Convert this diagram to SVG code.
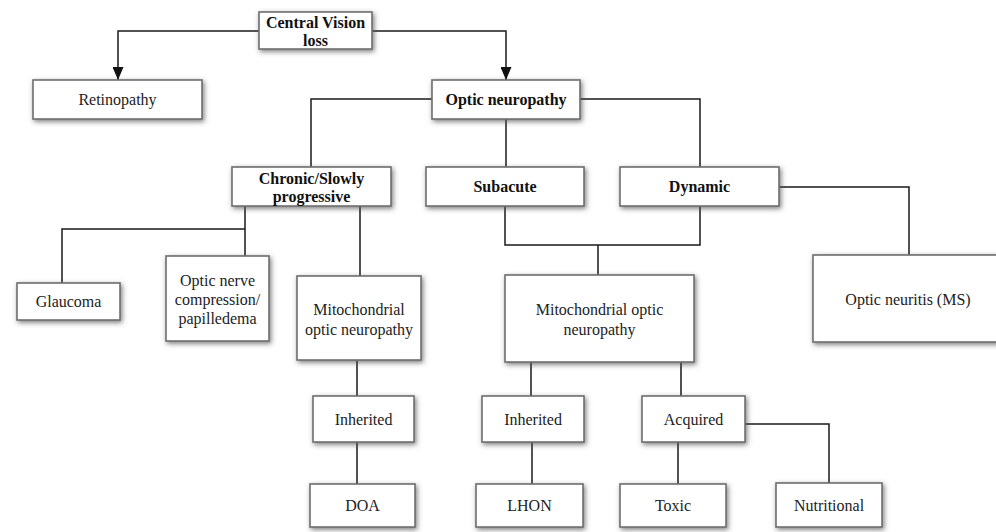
<svg xmlns="http://www.w3.org/2000/svg" width="996" height="532" viewBox="0 0 996 532">
<style>
.box{fill:#fff;stroke:#6e6e6e;stroke-width:1.6;filter:url(#sh)}
.t{font-family:'Liberation Serif','Times New Roman','DejaVu Serif',serif;font-size:16px;fill:#222;text-anchor:middle;dominant-baseline:central}
.b{font-weight:bold;fill:#111}
.c{fill:none;stroke:#1a1a1a;stroke-width:1.5}
</style>
<defs>
<filter id="sh" x="-20%" y="-30%" width="140%" height="160%">
<feDropShadow dx="1.5" dy="2" stdDeviation="2.5" flood-color="#555" flood-opacity="0.75"/>
</filter>
<marker id="ar" markerWidth="13" markerHeight="11" refX="13" refY="5.5" orient="auto" markerUnits="userSpaceOnUse" viewBox="0 0 13 11">
<path d="M0,0 L13,5.5 L0,11 Z" fill="#111"/>
</marker>
</defs>
<rect width="996" height="532" fill="#fff"/>
<g id="connectors">
<path class="c" d="M259,31 H118 V80" marker-end="url(#ar)"/>
<path class="c" d="M372,31 H506 V80" marker-end="url(#ar)"/>
<path class="c" d="M432,99 H311 V167"/>
<path class="c" d="M580,99 H700 V167"/>
<path class="c" d="M506,119 V167"/>
<path class="c" d="M245,206 V256 M245,229 H62 V283"/>
<path class="c" d="M360,206 V276"/>
<path class="c" d="M505,206 V245 H700 V206 M598,245 V275"/>
<path class="c" d="M779,187 H909 V255"/>
<path class="c" d="M357,360 V396 M357,442 V484"/>
<path class="c" d="M531,362 V396 M681,362 V396"/>
<path class="c" d="M532,442 V484"/>
<path class="c" d="M678,442 V484 M745,424 H829 V483"/>
</g>
<g id="central"><rect class="box" x="259" y="12" width="113" height="37"/><text class="t b" x="315.5" y="22">Central Vision</text><text class="t b" x="315.5" y="40">loss</text></g>
<g id="retinopathy"><rect class="box" x="33" y="80" width="169" height="39"/><text class="t" x="117.5" y="99.5">Retinopathy</text></g>
<g id="optic-neuropathy"><rect class="box" x="432" y="80" width="148" height="39"/><text class="t b" x="506" y="99.5">Optic neuropathy</text></g>
<g id="chronic"><rect class="box" x="232" y="167" width="159" height="39"/><text class="t b" x="311.5" y="178">Chronic/Slowly</text><text class="t b" x="311.5" y="196">progressive</text></g>
<g id="subacute"><rect class="box" x="426" y="167" width="158" height="39"/><text class="t b" x="505" y="186.5">Subacute</text></g>
<g id="dynamic"><rect class="box" x="620" y="167" width="159" height="39"/><text class="t b" x="699.5" y="186.5">Dynamic</text></g>
<g id="glaucoma"><rect class="box" x="17" y="283" width="103" height="37"/><text class="t" x="68.5" y="301.5">Glaucoma</text></g>
<g id="compression"><rect class="box" x="166" y="256" width="103" height="85"/><text class="t" x="217.5" y="280">Optic nerve</text><text class="t" x="217.5" y="299">compression/</text><text class="t" x="217.5" y="318">papilledema</text></g>
<g id="mito-chronic"><rect class="box" x="297" y="276" width="124" height="84"/><text class="t" x="359" y="309">Mitochondrial</text><text class="t" x="359" y="329">optic neuropathy</text></g>
<g id="mito-subacute"><rect class="box" x="505" y="275" width="189" height="87"/><text class="t" x="599.5" y="309">Mitochondrial optic</text><text class="t" x="599.5" y="329">neuropathy</text></g>
<g id="optic-neuritis"><rect class="box" x="813" y="255" width="192" height="87"/><text class="t" x="908" y="299">Optic neuritis (MS)</text></g>
<g id="inherited-1"><rect class="box" x="313" y="396" width="101" height="46"/><text class="t" x="363.5" y="419">Inherited</text></g>
<g id="inherited-2"><rect class="box" x="482" y="396" width="102" height="46"/><text class="t" x="533" y="419">Inherited</text></g>
<g id="acquired"><rect class="box" x="642" y="396" width="103" height="46"/><text class="t" x="693.5" y="419">Acquired</text></g>
<g id="doa"><rect class="box" x="310" y="484" width="105" height="43"/><text class="t" x="362.5" y="505.5">DOA</text></g>
<g id="lhon"><rect class="box" x="476" y="484" width="107" height="43"/><text class="t" x="529.5" y="505.5">LHON</text></g>
<g id="toxic"><rect class="box" x="620" y="484" width="106" height="43"/><text class="t" x="673" y="505.5">Toxic</text></g>
<g id="nutritional"><rect class="box" x="776" y="483" width="106" height="44"/><text class="t" x="829" y="505">Nutritional</text></g>
</svg>
